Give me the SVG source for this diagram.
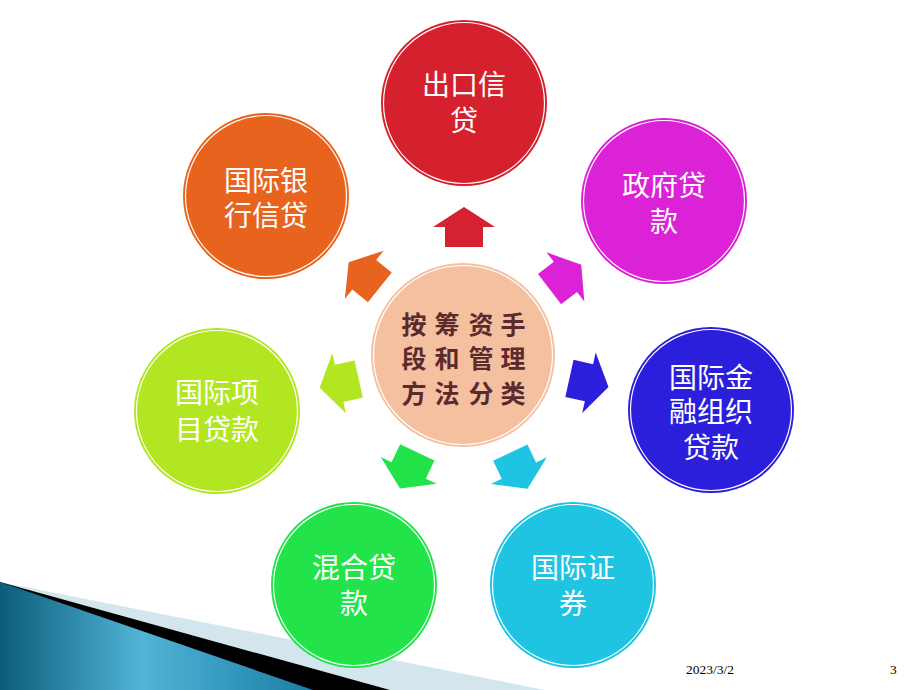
<svg xmlns="http://www.w3.org/2000/svg" width="920" height="690" viewBox="0 0 920 690">
<defs>
<style>
.ring{fill:none;stroke:#ffffff;stroke-width:1.2}
.lbl{font-family:"Noto Sans CJK SC","Noto Sans",sans-serif;font-size:28px;fill:#ffffff;text-anchor:middle;dominant-baseline:central}
.ctr{font-family:"Noto Sans CJK SC","Noto Sans",sans-serif;font-size:25px;font-weight:bold;fill:#5a2a2c;text-anchor:middle;dominant-baseline:central}
.foot{font-family:"Liberation Serif",serif;font-size:13.5px;fill:#000000}
</style>
<linearGradient id="blueg" x1="0" y1="0" x2="1" y2="0">
<stop offset="0" stop-color="#0b5c7a"/>
<stop offset="0.45" stop-color="#52b4d6"/>
<stop offset="1" stop-color="#197ea6"/>
</linearGradient>
<path id="arr" d="M0,-20 L31,0 L19,0 L19,20 L-19,20 L-19,0 L-31,0 Z"/>
</defs>
<rect width="920" height="690" fill="#ffffff"/>
<g id="decor">
<polygon points="0,582 545,690 0,690" fill="#d3e6ee"/>
<polygon points="0,582 390,690 0,690" fill="#000000"/>
<polygon points="0,582 313,690 0,690" fill="url(#blueg)"/>
</g>
<g id="connectors">
<use href="#arr" fill="#d42230" transform="translate(464,355) rotate(0) translate(0,-128)"/>
<use href="#arr" fill="#dc22d6" transform="translate(464,355) rotate(52.4) translate(0,-128)"/>
<use href="#arr" fill="#2b1fdc" transform="translate(464,355) rotate(102.5) translate(0,-128)"/>
<use href="#arr" fill="#1ec4e2" transform="translate(464,355) rotate(154.6) translate(0,-128)"/>
<use href="#arr" fill="#22e44a" transform="translate(464,355) rotate(205.6) translate(0,-128)"/>
<use href="#arr" fill="#b2e622" transform="translate(464,355) rotate(-102.8) translate(0,-128)"/>
<use href="#arr" fill="#e8641e" transform="translate(464,355) rotate(-51.2) translate(0,-128)"/>
</g>
<g id="center">
<circle cx="463" cy="355" r="92" fill="#f5c0a0"/>
<circle cx="463" cy="355" r="89.5" class="ring"/>
<text class="ctr" x="414 447 481 513" y="323">按筹资手</text>
<text class="ctr" x="414 447 481 513" y="357">段和管理</text>
<text class="ctr" x="414 447 481 513" y="392">方法分类</text>
</g>
<g id="n-export">
<circle cx="464" cy="103" r="83" fill="#d5202e"/>
<circle cx="464" cy="103" r="80.5" class="ring"/>
<text class="lbl" x="464" y="83">出口信</text>
<text class="lbl" x="464" y="119">贷</text>
</g>
<g id="n-gov">
<circle cx="664" cy="201" r="83" fill="#dc22d6"/>
<circle cx="664" cy="201" r="80.5" class="ring"/>
<text class="lbl" x="664" y="184">政府贷</text>
<text class="lbl" x="664" y="220">款</text>
</g>
<g id="n-intl-org">
<circle cx="711" cy="410" r="83" fill="#2b1fdc"/>
<circle cx="711" cy="410" r="80.5" class="ring"/>
<text class="lbl" x="711" y="376">国际金</text>
<text class="lbl" x="711" y="410">融组织</text>
<text class="lbl" x="711" y="446">贷款</text>
</g>
<g id="n-securities">
<circle cx="573" cy="585" r="83" fill="#1ec4e2"/>
<circle cx="573" cy="585" r="80.5" class="ring"/>
<text class="lbl" x="573" y="566">国际证</text>
<text class="lbl" x="573" y="602">券</text>
</g>
<g id="n-mixed">
<circle cx="354" cy="585" r="83" fill="#22e44a"/>
<circle cx="354" cy="585" r="80.5" class="ring"/>
<text class="lbl" x="354" y="566">混合贷</text>
<text class="lbl" x="354" y="602">款</text>
</g>
<g id="n-project">
<circle cx="217" cy="411" r="83" fill="#b2e622"/>
<circle cx="217" cy="411" r="80.5" class="ring"/>
<text class="lbl" x="217" y="391">国际项</text>
<text class="lbl" x="217" y="428">目贷款</text>
</g>
<g id="n-bank">
<circle cx="266" cy="196" r="83" fill="#e8641e"/>
<circle cx="266" cy="196" r="80.5" class="ring"/>
<text class="lbl" x="266" y="179">国际银</text>
<text class="lbl" x="266" y="214">行信贷</text>
</g>
<g id="footer">
<text class="foot" x="686" y="674">2023/3/2</text>
<text class="foot" x="890" y="674">3</text>
</g>
</svg>
